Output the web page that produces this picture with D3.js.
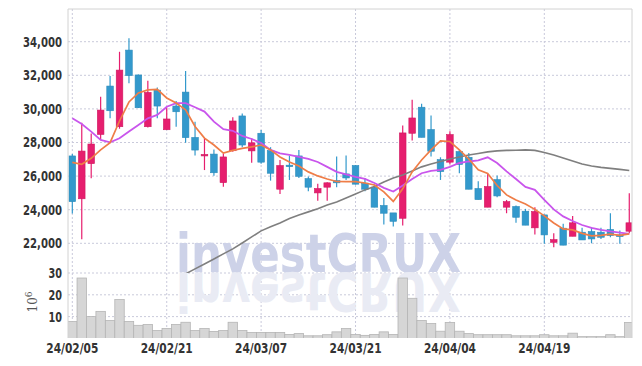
<!DOCTYPE html>
<html>
<head>
<meta charset="utf-8">
<script src="https://cdn.jsdelivr.net/npm/d3@7"></script>
<style>
  body { margin: 0; background: #fff; }
</style>
</head>
<body>
<div id="chart"></div>
<script>

// trading days shown
var dates = [
  "24/02/05","24/02/06","24/02/07","24/02/08","24/02/13","24/02/14","24/02/15","24/02/16","24/02/19","24/02/20",
  "24/02/21","24/02/22","24/02/23","24/02/26","24/02/27","24/02/28","24/02/29","24/03/04","24/03/05","24/03/06",
  "24/03/07","24/03/08","24/03/11","24/03/12","24/03/13","24/03/14","24/03/15","24/03/18","24/03/19","24/03/20",
  "24/03/21","24/03/22","24/03/25","24/03/26","24/03/27","24/03/28","24/03/29","24/04/01","24/04/02","24/04/03",
  "24/04/04","24/04/05","24/04/08","24/04/09","24/04/11","24/04/12","24/04/15","24/04/16","24/04/17","24/04/18",
  "24/04/19","24/04/22","24/04/23","24/04/24","24/04/25","24/04/26","24/04/29","24/04/30","24/05/02","24/05/03"
];

var opens = [
  27200, 24650, 26740, 28480, 31360, 28940, 33500, 32020, 28940, 31120,
  28760, 30170, 31000, 28300, 27220, 27310, 25610, 27510, 29580, 27500,
  28550, 27520, 25220, 26650, 27200, 25850, 25000, 25340, 25730, 26130,
  26630, 25580, 25340, 24250, 23810, 23490, 28550, 30100, 28770, 26980,
  26830, 27460, 27120, 25260, 24150, 25790, 24150, 24190, 23910, 22920,
  23690, 22060, 22900, 22420, 22660, 22700, 22660, 22820, 22500, 22720
];
var closes = [
  24480, 27490, 27910, 29930, 29890, 32310, 31980, 30070, 30980, 30170,
  29400, 29830, 28290, 27550, 27290, 26200, 27140, 29280, 27850, 27980,
  26830, 26170, 26630, 26600, 25990, 25340, 25260, 25600, 25600, 25890,
  25520, 25220, 24150, 23790, 23310, 28570, 29460, 28310, 27480, 26270,
  28470, 26690, 25220, 24600, 25380, 24820, 24480, 23550, 23080, 23890,
  22500, 22220, 21890, 23220, 22200, 22260, 22360, 22460, 22400, 23220
];
var highs = [
  27310, 29180, 28540, 30730, 31960, 33400, 34200, 32050, 31680, 31280,
  30090, 30470, 32250, 29240, 28250, 27590, 27350, 29500, 29730, 28250,
  28750, 27720, 26960, 27220, 27560, 25970, 25540, 25640, 27160, 27220,
  26650, 25890, 25500, 24700, 23810, 29010, 30540, 30300, 29600, 27120,
  28670, 27560, 27380, 25700, 26130, 26030, 24580, 24250, 24050, 24150,
  23700, 22600, 23160, 23630, 22920, 22960, 22920, 23790, 22760, 24980
];
var lows = [
  23780, 22240, 25870, 28150, 29440, 28820, 31520, 30050, 28900, 29440,
  28740, 28940, 27990, 27220, 26360, 26020, 25370, 27450, 27710, 26790,
  26730, 25730, 24940, 25770, 25890, 25100, 24540, 24540, 25340, 25770,
  25500, 25100, 24150, 23120, 23000, 23060, 28120, 28310, 27160, 25770,
  26690, 26170, 25220, 24600, 24150, 24740, 23790, 23220, 23080, 22520,
  21970, 21770, 21890, 22420, 22200, 22000, 22260, 22360, 21970, 22600
];

// moving averages
var maShort = [
  26820, 26700, 27060, 27560, 27990, 29280, 30410, 30950, 31130, 31160,
  30650, 30350, 29940, 28950, 28260, 27850, 27370, 27530, 27650, 27740,
  27850, 27560, 27140, 26840, 26600, 26250, 26010, 25830, 25680, 25670,
  25670, 25590, 25470, 25060, 24490, 25240, 26250, 26960, 27560, 28090,
  28060, 27560, 27020, 26370, 26160, 25440, 24880, 24580, 24340, 24020,
  23630, 23210, 22860, 22800, 22590, 22440, 22470, 22540, 22470, 22560
];
var maMid = [
  29440, 29100, 28650, 28150, 28010, 28250, 28650, 29040, 29440, 29640,
  30130, 30340, 30340, 30100, 29840, 29240, 28790, 28700, 28390, 28210,
  27970, 27560, 27350, 27260, 27140, 27020, 26840, 26550, 26250, 26100,
  25950, 25830, 25590, 25300, 25080, 25440, 25830, 26170, 26310, 26370,
  26550, 26780, 26870, 26940, 27120, 26780, 26280, 25830, 25360, 25180,
  24580, 24020, 23600, 23330, 23090, 22920, 22800, 22710, 22640, 22560
];
var maLong = [
  null, null, null, null, null, null, null, null, null, null,
  null, null, 20180, 20480, 20770, 21070, 21370, 21670, 22020, 22380,
  22740, 22980, 23210, 23480, 23690, 23870, 24050, 24280, 24460, 24700,
  24940, 25180, 25380, 25650, 25890, 26070, 26310, 26550, 26720, 26870,
  27020, 27140, 27260, 27350, 27440, 27500, 27530, 27540, 27560, 27530,
  27410, 27260, 27080, 26900, 26720, 26600, 26520, 26460, 26400, 26330
];

// volume in millions
var volume = [
  7.8, 27.7, 10.0, 12.4, 8.2, 17.8, 7.8, 6.0, 6.4, 3.6,
  4.5, 6.4, 7.4, 3.6, 4.5, 3.2, 3.6, 7.4, 3.6, 2.7,
  2.7, 2.7, 2.7, 1.8, 2.2, 1.2, 1.2, 1.7, 3.0, 4.5,
  1.8, 1.4, 1.8, 3.0, 1.8, 27.7, 18.4, 8.2, 6.8, 3.3,
  7.3, 3.3, 2.2, 1.7, 1.7, 1.7, 1.7, 1.2, 1.2, 1.2,
  1.7, 1.2, 1.2, 2.4, 0.8, 0.8, 0.8, 1.7, 0.8, 7.3
];

var priceTicks = [22000, 24000, 26000, 28000, 30000, 32000, 34000];
var volTicks = [10, 20, 30];
var dateTicks = ["24/02/05", "24/02/21", "24/03/07", "24/03/21", "24/04/04", "24/04/19"];

var W = 642, H = 366;
var pLeft = 68, pRight = 632, pTop = 9, pSplit = 273, pBottom = 338;

var svg = d3.select("#chart").append("svg")
    .attr("width", W)
    .attr("height", H);

var x = d3.scaleBand().domain(dates).range([67.6, 634]);
var y = d3.scaleLinear().domain([22000, 34000]).range([243.3, 41.7]);
var yv = d3.scaleLinear().domain([0, 30]).range([338.4, 273]);
var cx = function (d) { return x(d) + x.bandwidth() / 2; };

var defs = svg.append("defs");
defs.append("clipPath").attr("id", "clipPrice")
    .append("rect").attr("x", pLeft).attr("y", pTop).attr("width", pRight - pLeft).attr("height", pSplit - pTop);
defs.append("clipPath").attr("id", "clipVol")
    .append("rect").attr("x", pLeft).attr("y", pSplit).attr("width", pRight - pLeft).attr("height", pBottom - pSplit);

// grid
var gridColor = "#c9cadb";
svg.append("g").selectAll("line").data(priceTicks).enter().append("line")
    .attr("x1", pLeft).attr("x2", pRight)
    .attr("y1", function (d) { return y(d); }).attr("y2", function (d) { return y(d); })
    .attr("stroke", gridColor).attr("stroke-dasharray", "2,2");
svg.append("g").selectAll("line").data(volTicks).enter().append("line")
    .attr("x1", pLeft).attr("x2", pRight)
    .attr("y1", function (d) { return yv(d); }).attr("y2", function (d) { return yv(d); })
    .attr("stroke", gridColor).attr("stroke-dasharray", "2,2");
svg.append("g").selectAll("line").data(dateTicks).enter().append("line")
    .attr("x1", cx).attr("x2", cx)
    .attr("y1", pTop).attr("y2", pBottom)
    .attr("stroke", gridColor).attr("stroke-dasharray", "2,2");

// watermark + reflection
var wm = svg.append("g").style("font-family", "'DejaVu Sans', sans-serif")
    .style("font-weight", "bold").style("font-size", "54px");
wm.append("text").attr("x", 176).attr("y", 272)
    .attr("textLength", 285).attr("lengthAdjust", "spacingAndGlyphs")
    .attr("fill", "#cdd2e8").text("investCRUX");
wm.append("text").attr("x", 176).attr("y", 272)
    .attr("transform", "translate(0,545) scale(1,-1)")
    .attr("textLength", 285).attr("lengthAdjust", "spacingAndGlyphs")
    .attr("fill", "#e9ebf4").text("investCRUX");

// volume
svg.append("g").attr("clip-path", "url(#clipVol)")
    .selectAll("rect").data(dates).enter().append("rect")
    .attr("x", function (d) { return x(d); })
    .attr("width", x.bandwidth())
    .attr("y", function (d, i) { return yv(volume[i]); })
    .attr("height", function (d, i) { return yv(0) - yv(volume[i]); })
    .attr("fill", "#d6d6d6")
    .attr("stroke", "#b5b5b5")
    .attr("stroke-width", 0.8);

// candles
var upColor = "#e61e6e", downColor = "#3399cc";
var isUp = function (i) { return closes[i] >= opens[i]; };
var price = svg.append("g").attr("clip-path", "url(#clipPrice)");
var candle = price.append("g").selectAll("g").data(dates).enter().append("g");
candle.append("line")
    .attr("x1", cx).attr("x2", cx)
    .attr("y1", function (d, i) { return y(highs[i]); })
    .attr("y2", function (d, i) { return y(lows[i]); })
    .attr("stroke", function (d, i) { return isUp(i) ? upColor : downColor; })
    .attr("stroke-width", 1.2);
candle.append("rect")
    .attr("x", function (d) { return cx(d) - 3.3; })
    .attr("width", 6.6)
    .attr("y", function (d, i) { return y(Math.max(opens[i], closes[i])); })
    .attr("height", function (d, i) { return Math.max(1.5, Math.abs(y(opens[i]) - y(closes[i]))); })
    .attr("fill", function (d, i) { return isUp(i) ? upColor : downColor; })
    .attr("stroke", function (d, i) { return isUp(i) ? "#cf1a61" : "#2b8bbb"; })
    .attr("stroke-width", 0.6);

// moving averages
function maLine(values, color, w) {
    var line = d3.line()
        .defined(function (d, i) { return values[i] != null; })
        .x(function (d) { return cx(d); })
        .y(function (d, i) { return y(values[i]); });
    price.append("path").datum(dates)
        .attr("d", line)
        .attr("fill", "none")
        .attr("stroke", color)
        .attr("stroke-width", w);
}
maLine(maLong, "#7f7f7f", 1.6);
maLine(maMid, "#c955ec", 1.8);
maLine(maShort, "#ef7d47", 1.7);

// frame
svg.append("path")
    .attr("d", "M" + pLeft + "," + pBottom + "V" + pTop + "H" + pRight + "V" + pBottom)
    .attr("fill", "none").attr("stroke", "#d2d2d2");

// axes (labels squeezed to the narrow face of the original)
function styleAxis(a, len) {
    a.select(".domain").remove();
    a.selectAll("text")
        .style("font-family", "'DejaVu Sans Condensed', 'DejaVu Sans', sans-serif")
        .style("font-size", "14px")
        .style("font-weight", "bold")
        .attr("fill", "#333")
        .attr("textLength", len)
        .attr("lengthAdjust", "spacingAndGlyphs");
}
var yAxis = svg.append("g").attr("transform", "translate(" + pLeft + ",0)")
    .call(d3.axisLeft(y).tickValues(priceTicks).tickFormat(d3.format(",")).tickSize(0).tickPadding(6));
styleAxis(yAxis, 39);
var vAxis = svg.append("g").attr("transform", "translate(" + pLeft + ",0)")
    .call(d3.axisLeft(yv).tickValues(volTicks).tickSize(0).tickPadding(6));
styleAxis(vAxis, 13.5);
var xAxis = svg.append("g").attr("transform", "translate(0," + pBottom + ")")
    .call(d3.axisBottom(x).tickValues(dateTicks).tickSize(0).tickPadding(5));
styleAxis(xAxis, 52);

// volume unit label
var unit = svg.append("text")
    .attr("transform", "translate(37,302) rotate(-90)")
    .attr("text-anchor", "middle")
    .style("font-family", "'DejaVu Serif', serif")
    .style("font-size", "12px")
    .attr("fill", "#555");
unit.append("tspan").text("10");
unit.append("tspan").attr("dy", "-5").style("font-size", "9px").text("6");

</script>
</body>
</html>
